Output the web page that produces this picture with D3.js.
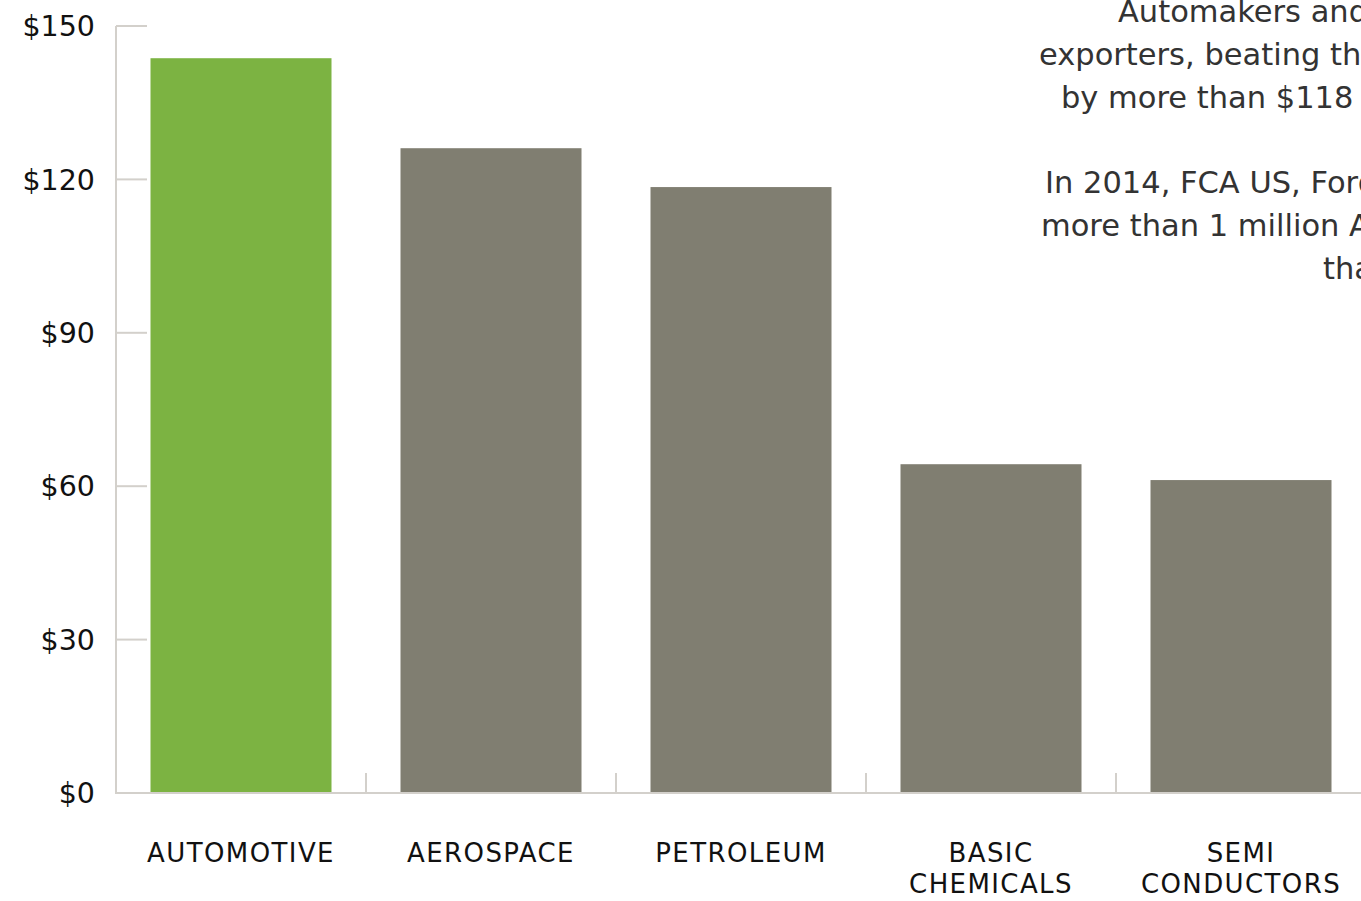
<!DOCTYPE html>
<html>
<head>
<meta charset="utf-8">
<script src="https://cdn.jsdelivr.net/npm/d3@7"></script>
<style>
  html, body { margin: 0; padding: 0; background: #fff; overflow: hidden; }
  svg { display: block; }
  text { font-family: "DejaVu Sans", sans-serif; }
</style>
</head>
<body>
<svg id="chart" width="1361" height="901"></svg>
<script>
// ---- data ----
const categories = ["AUTOMOTIVE", "AEROSPACE", "PETROLEUM", "BASIC\nCHEMICALS", "SEMI\nCONDUCTORS"];
const values = [143.7, 126.1, 118.5, 64.3, 61.2];
const highlight = ["AUTOMOTIVE"];
const yTicks = [0, 30, 60, 90, 120, 150];
const yTickLabels = ["$0", "$30", "$60", "$90", "$120", "$150"];
const noteParagraph1 = [
  "Automakers and suppliers are America's largest",
  "exporters, beating the aerospace industry",
  "by more than $118 billion."
];
const noteParagraph2 = [
  "In 2014, FCA US, Ford and GM exported",
  "more than 1 million American-made vehicles,",
  "than any other industry."
];

// ---- layout ----
const svg = d3.select("#chart");
const axisColor = "#d3d0cb";
const green = "#7cb342";
const gray = "#807e71";

const x = d3.scaleBand()
  .domain(categories)
  .range([116, 1366])
  .paddingInner(0.276)
  .paddingOuter(0.138);

const y = d3.scaleLinear().domain([0, 150]).range([793, 26]);

// bars
svg.append("g").selectAll("rect")
  .data(categories)
  .join("rect")
  .attr("x", d => x(d))
  .attr("width", x.bandwidth())
  .attr("y", (d, i) => y(values[i]))
  .attr("height", (d, i) => y(0) - y(values[i]))
  .attr("fill", d => highlight.includes(d) ? green : gray);

// y axis
const yAxis = svg.append("g");
yAxis.append("line")
  .attr("x1", 116).attr("x2", 116)
  .attr("y1", y(150)).attr("y2", y(0))
  .attr("stroke", axisColor).attr("stroke-width", 2);
yAxis.selectAll("line.tick")
  .data(yTicks)
  .join("line")
  .attr("class", "tick")
  .attr("x1", 116).attr("x2", 147)
  .attr("y1", d => y(d)).attr("y2", d => y(d))
  .attr("stroke", axisColor).attr("stroke-width", 2);
yAxis.selectAll("text")
  .data(yTicks)
  .join("text")
  .attr("x", 95)
  .attr("y", d => y(d))
  .attr("dy", "0.36em")
  .attr("text-anchor", "end")
  .attr("font-size", 28.5)
  .attr("fill", "#111")
  .text((d, i) => yTickLabels[i]);

// x axis
const xAxis = svg.append("g");
xAxis.append("line")
  .attr("x1", 115).attr("x2", 1400)
  .attr("y1", y(0)).attr("y2", y(0))
  .attr("stroke", axisColor).attr("stroke-width", 2);
const step = x.step();
xAxis.selectAll("line.sep")
  .data(categories)
  .join("line")
  .attr("class", "sep")
  .attr("x1", d => x(d) - x.paddingOuter() * step + step)
  .attr("x2", d => x(d) - x.paddingOuter() * step + step)
  .attr("y1", y(0) - 20).attr("y2", y(0))
  .attr("stroke", axisColor).attr("stroke-width", 2);

const labels = xAxis.selectAll("text.cat")
  .data(categories)
  .join("text")
  .attr("class", "cat")
  .attr("text-anchor", "middle")
  .attr("font-size", 26)
  .attr("letter-spacing", 1.4)
  .attr("fill", "#111")
  .attr("y", 862);
labels.each(function(d) {
  const t = d3.select(this);
  d.split("\n").forEach((line, k) => {
    t.append("tspan")
      .attr("x", x(d) + x.bandwidth() / 2)
      .attr("y", 862 + k * 31)
      .text(line);
  });
});

// annotation
const note = svg.append("g").attr("fill", "#333").attr("font-size", 30.5);
const p1Starts = [1118, 1039, 1061];
const p2Starts = [1045, 1041, 1323];
noteParagraph1.forEach((line, k) => {
  note.append("text").attr("x", p1Starts[k]).attr("y", 22 + k * 43).text(line);
});
noteParagraph2.forEach((line, k) => {
  note.append("text").attr("x", p2Starts[k]).attr("y", 193 + k * 43).text(line);
});
</script>
</body>
</html>
